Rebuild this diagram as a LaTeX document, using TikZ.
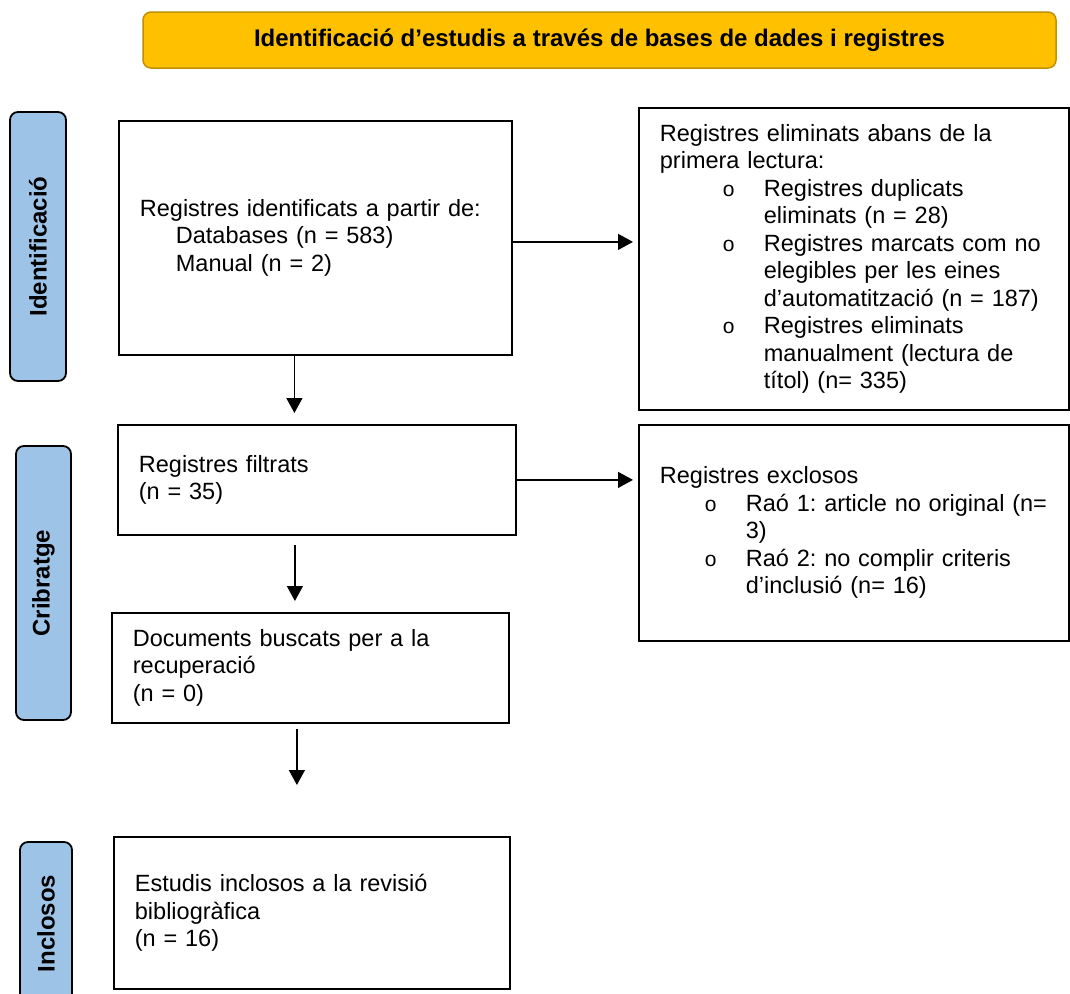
\documentclass[tikz,border=0pt]{standalone}
\usepackage{fontspec}
\setmainfont{Liberation Sans}
\usetikzlibrary{arrows.meta}

\definecolor{headfill}{RGB}{255,192,0}
\definecolor{headline}{RGB}{191,144,0}
\definecolor{stagefill}{RGB}{157,195,230}
\newcommand\itm[1]{\hspace*{#1}\makebox[41pt][l]{\fontsize{21}{21}\selectfont o}}
\newcommand\ind[1]{\hspace*{#1}}

\begin{document}
\frenchspacing
\begin{tikzpicture}[x=1pt, y=-1pt,
  every node/.style={font=\fontsize{23.5}{27.5}\selectfont},
  box/.style={draw, line width=1.8pt, anchor=north west, align=left, inner xsep=21pt, inner ysep=0pt},
  stagebox/.style={draw, line width=1.8pt, fill=stagefill, rounded corners=8pt, rotate=90,
    font=\fontsize{24}{27.5}\selectfont\bfseries},
  arr/.style={line width=1.3pt, -{Triangle[length=15pt,width=16pt]}}]
  \useasboundingbox (0,0) rectangle (1070,993);

  % header
  \node[draw=headline, fill=headfill, line width=1.5pt, rounded corners=8pt,
    minimum width=913pt, minimum height=56pt, font=\fontsize{24}{27.5}\selectfont\bfseries]
    (head) at (599.5,40) {Identificació d’estudis a través de bases de dades i registres};

  % stages
  \node[stagebox, minimum width=269pt, minimum height=56pt] (ident) at (38,246.5) {Identificació};
  \node[stagebox, minimum width=274pt, minimum height=55pt] (crib) at (43.5,583) {Cribratge};
  \node[stagebox, minimum width=163pt, minimum height=52pt] (incl) at (46,923.5) {Inclosos};

  % main column
  \node[box, text width=351pt, minimum height=234pt] (found) at (118,120)
    {Registres identificats a partir de:\\ \ind{36pt}Databases (n = 583)\\ \ind{36pt}Manual (n = 2)};
  \node[box, text width=356pt, minimum height=110pt] (filt) at (117,424)
    {Registres filtrats\\ (n = 35)};
  \node[box, text width=355pt, minimum height=110pt] (docs) at (111,612)
    {Documents buscats per a la\\ recuperació\\ (n = 0)};
  \node[box, text width=354pt, minimum height=152pt] (studies) at (113,836)
    {Estudis inclosos a la revisió\\ bibliogràfica\\ (n = 16)};

  % side column
  \node[box, text width=388pt, minimum height=302pt] (removed) at (638,107)
    {Registres eliminats abans de la\\ primera lectura:\\
     \itm{63pt}Registres duplicats\\ \ind{104pt}eliminats (n = 28)\\
     \itm{63pt}Registres marcats com no\\ \ind{104pt}elegibles per les eines\\ \ind{104pt}\mbox{d’automatització (n = 187)}\\
     \itm{63pt}Registres eliminats\\ \ind{104pt}manualment (lectura de\\ \ind{104pt}títol) (n= 335)};
  \node[box, text width=388pt, minimum height=216pt] (excl) at (638,424)
    {Registres exclosos\\
     \itm{45pt}\mbox{Raó 1: article no original (n=}\\ \ind{86pt}3)\\
     \itm{45pt}Raó 2: no complir criteris\\ \ind{86pt}d’inclusió (n= 16)};

  % arrows
  \draw[arr, shorten >=5pt] ([yshift=-4pt]found.east) -- ([yshift=-4pt]found.east -| removed.west);
  \draw[arr, shorten >=5pt] (filt.east) -- (filt.east -| excl.west);
  \draw[arr, shorten >=11pt] ([xshift=-21pt]found.south) -- ([xshift=-21pt]found.south |- filt.north);
  \draw[arr, shorten <=9pt, shorten >=11pt] ([xshift=-22pt]filt.south) -- ([xshift=-22pt]filt.south |- docs.north);
  \draw[arr, shorten <=5pt, shorten >=51pt] ([xshift=-13.5pt]docs.south) -- ([xshift=-13.5pt]docs.south |- studies.north);
\end{tikzpicture}
\end{document}
